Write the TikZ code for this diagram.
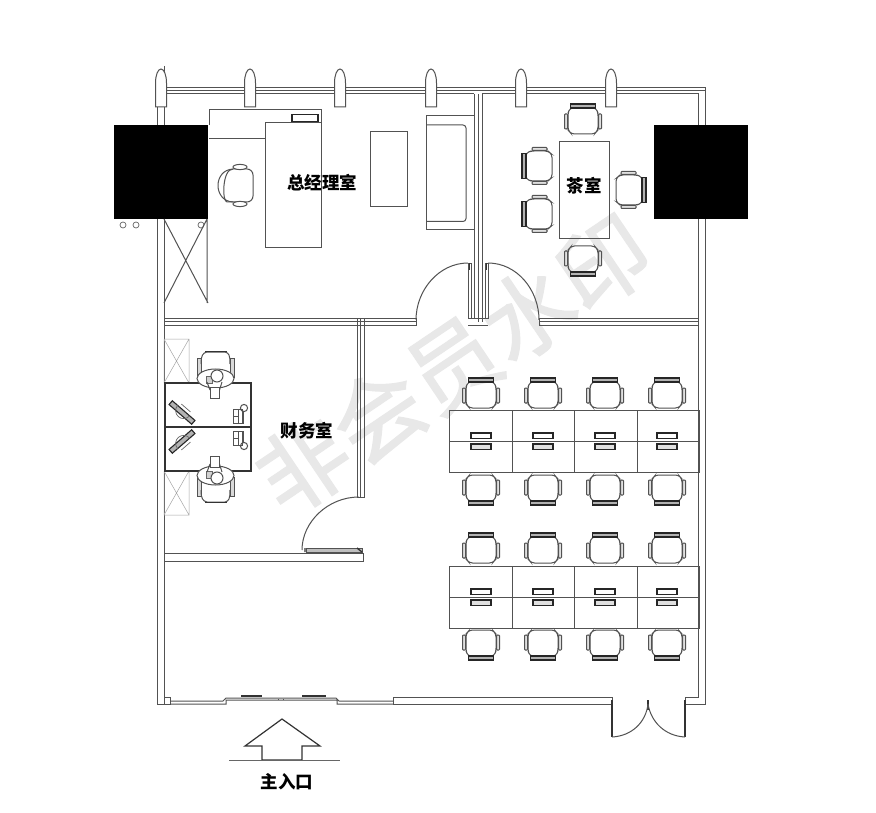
\documentclass[tikz,border=0pt]{standalone}
\usepackage{fontspec}
\newfontfamily\cjk{Noto Sans CJK SC}
\tikzset{
 ln/.style={draw=black!68,line width=1pt},
 thin ln/.style={draw=black!60,line width=0.7pt},
 light ln/.style={draw=black!35,line width=0.5pt},
 heavy/.style={draw=black!80,line width=1.4pt},
 room/.style={font=\cjk\bfseries\fontsize{17.5}{18}\selectfont,text=black,inner sep=0pt},
 chairpic/.pic={
  \draw[ln,rounded corners=3pt] (-13,-11)--(13,-11)--(15,-6)--(15,11)--(11.5,15)--(-11.5,15)--(-15,11)--(-15,-6)--cycle;
  \draw[ln,fill=black!12,rounded corners=0.8pt] (-18.5,-5) rectangle (-15.5,10);
  \draw[ln,fill=black!12,rounded corners=0.8pt] (15.5,-5) rectangle (18.5,10);
  \draw[draw=black!85,line width=1.2pt,fill=black!30] (-12.5,-15) rectangle (12.5,-11);
 },
 curtain/.pic={
  \draw[ln,fill=white] (-5.5,38)--(-5.5,14) .. controls (-5.5,6) and (-3,0) .. (0,0) .. controls (3,0) and (5.5,6) .. (5.5,14)--(5.5,38)--cycle;
 },
 drawer/.pic={
  \draw[draw=black!85,line width=1.3pt,fill=white] (-10,-8) rectangle (10,-2.5);
  \draw[draw=black!85,line width=1.3pt,fill=black!12] (-10,3) rectangle (10,8.5);
 },
}
\newcommand\financeset{
  \draw[light ln] (164,339) rectangle (189,383) (164,339)--(189,383) (189,339)--(164,383);
  \draw[heavy] (165,383) rectangle (251,427);
  % chair
  \draw[ln,fill=black!15] (197,358) rectangle (201,377);
  \draw[ln,fill=black!15] (230,358) rectangle (234,377);
  \draw[ln] (201,364) .. controls (201,355) and (203,353) .. (207,352)--(225,352) .. controls (229,353) and (230,355) .. (230,364);
  \draw[heavy] (205,351.5)--(227,351.5);
  % person
  \draw[ln,fill=white] (215.5,378.5) ellipse [x radius=18.5,y radius=9.5];
  \draw[thin ln,fill=black!18] (206,376) rectangle (212,383);
  \draw[ln,fill=white] (217,376) circle (6);
  \draw[ln,fill=white] (210,387) rectangle (219.5,398);
  \draw[ln] (207,382)--(210,390) (222,382)--(219.5,390);
  % monitor
  \begin{scope}[shift={(182,412.5)},rotate=-41]
   \draw[draw=black!85,line width=1.1pt,fill=black!30] (-15,-2.5) rectangle (15,2.5);
   \draw[thin ln] (-8,-2.5) arc[start angle=180,end angle=0,radius=8];
   \draw[thin ln] (-6,-6)--(6,-6);
  \end{scope}
  % phone
  \draw[ln] (233,409) rectangle (242,423) (238,409)--(238,423) (233,416)--(238,416);
  \draw[ln] (244,408) circle (3.6);
  \draw[ln] (243,411.5)--(243,423)--(241,423);
}
\begin{document}
\begin{tikzpicture}[x=1pt,y=-1pt]
\useasboundingbox (0,0) rectangle (876,813);
\fill[white] (0,0) rectangle (876,813);
% watermark
\node[rotate=34,inner sep=0pt,text=black!9,font=\cjk\fontsize{90.5}{92}\selectfont\addfontfeature{FakeBold=1.5}] (wm) at (453,364) {非会员水印};
% outer walls
\draw[ln] (157,142)--(157,704)--(164,704)--(164,96);
\draw[ln] (157,107)--(157,125) (164,107)--(164,125);
\draw[ln] (164,66)--(164,96);
\draw[ln] (164,88)--(705,88)--(705,704)--(685,704);
\draw[ln] (164,91)--(705,91);
\draw[ln] (164,94)--(474,94) (482,94)--(698,94)--(698,697)--(685,697)--(685,704);
% inner wall tea/manager
\draw[ln] (474,94)--(474,318) (478,94)--(478,322) (482,94)--(482,322);
\draw[ln] (468,318)--(488,318) (468,325)--(488,325);
% cross walls
\draw[ln] (164,318)--(416,318)--(416,325)--(164,325);
\draw[ln] (164,321.5)--(416,321.5);
\draw[ln] (539,318)--(698,318) (539,325)--(698,325) (539,321.5)--(698,321.5) (539,318)--(539,325);
\draw[ln] (357,325)--(357,497)--(364,497)--(364,325) (360.5,318)--(360.5,497) (357,318)--(357,325) (364,318)--(364,325);
\draw[ln] (164,553)--(363,553)--(363,561)--(164,561);
% doors
\draw[ln] (468,263) .. controls (439,263) and (416,290) .. (416,320);
\draw[ln] (488,263) .. controls (517,263) and (539,290) .. (539,320);
\draw[ln] (468,264) rectangle (471,318) (485,264) rectangle (488,318);
\draw[heavy] (469.5,263)--(469.5,270) (486.5,263)--(486.5,270);
\draw[ln] (359,497) .. controls (328,497) and (302,522) .. (302,550);
\draw[ln,fill=black!25] (306,548) rectangle (362,552);
\draw[heavy] (305,548)--(305,552) (357,548)--(362,552);
% bottom wall
\draw[ln] (164,697)--(170,697)--(170,704)--(157,704);
\draw[ln] (170,701)--(223,701)--(226,698)--(336,698)--(339,701)--(393,701)
          (170,704)--(226,704)--(226,700)--(337,700)--(337,704)--(393,704);
\draw[heavy] (241,696)--(262,696) (302,696)--(326,696);
\draw[ln] (278,699)--(278,700) (283,699)--(283,700);
\draw[ln] (393,697)--(612,697)--(612,704)--(393,704)--cycle;
% double door
\draw[heavy] (612,700)--(612,737) (685,700)--(685,737) (648,700)--(648,710);
\draw[ln] (612,737) .. controls (632,736) and (646,722) .. (648,704);
\draw[ln] (685,737) .. controls (665,736) and (651,722) .. (648,704);
% curtains
\foreach \cx in {161,250,340,431,521,611} \pic at (\cx,69) {curtain};
% black blocks
\fill[black] (114,125) rectangle (208,219);
\fill[black] (654,125) rectangle (748,219);
\draw[thin ln] (123,225) circle (3) (136,225) circle (3) (201,225) circle (3);
% cabinet
\draw[ln] (164,303)--(207,219) (164,219)--(208,303) (207,219)--(207,303);
% manager desk
\draw[ln] (209,125)--(209,109.5)--(321,109.5)--(321,248)--(265,248)--(265,123)--(321,123);
\draw[ln] (209,139)--(265,139);
\draw[draw=black!85,line width=1.4pt] (292,114.5) rectangle (318,121.5);
% manager chair
\draw[ln,rounded corners=6pt] (233,169)--(253,169)--(253,202)--(233,202) .. controls (222,202) and (222,169) .. (233,169);
\draw[ln] (233,169) .. controls (213,170) and (213,201) .. (233,202);
\draw[ln,fill=white] (240,167) ellipse [x radius=7,y radius=2.6];
\draw[ln,fill=white] (240,204) ellipse [x radius=7,y radius=2.6];
% tea table, sofa
\draw[ln] (370,132) rectangle (407,207);
\draw[ln] (426,116) rectangle (474,230);
\draw[ln,rounded corners=3pt] (426,125)--(466,125)--(466,221.5)--(426,221.5);
% tea room
\draw[ln] (559,142) rectangle (609,239);
\pic at (583,119) {chairpic};
\pic[rotate=180] at (583,261) {chairpic};
\pic[rotate=90] at (537,166) {chairpic};
\pic[rotate=90] at (537,214) {chairpic};
\pic[rotate=-90] at (631,190) {chairpic};
% finance room
\financeset
\begin{scope}[shift={(0,854)},yscale=-1]
\financeset
\end{scope}
% workstations
\foreach \yt/\ym/\yb/\ca/\cb in {410/441/472/393/490, 566/597/628/548/645}{
  \draw[ln] (449,\yt) rectangle (699,\yb) (449,\ym)--(699,\ym);
  \foreach \vx in {512,574,637} \draw[ln] (\vx,\yt)--(\vx,\yb);
  \foreach \cx in {481,543,605,667}{
    \pic at (\cx,\ca) {chairpic};
    \pic[rotate=180] at (\cx,\cb) {chairpic};
    \pic at (\cx,\ym) {drawer};
  }
}
% entrance arrow
\draw[draw=black!80,line width=1.2pt] (262,746)--(245,746)--(282,719)--(320,746)--(302,746)--(302,760)--(262,760)--cycle;
\draw[thin ln] (229,760)--(340,760);
% labels
\node[room] (mgr) at (322,183) {总经理室};
\node[room] (tea) at (584,186) {茶室};
\node[room] (fin) at (307,431) {财务室};
\node[room] (ent) at (287,782) {主入口};
\end{tikzpicture}
\end{document}
